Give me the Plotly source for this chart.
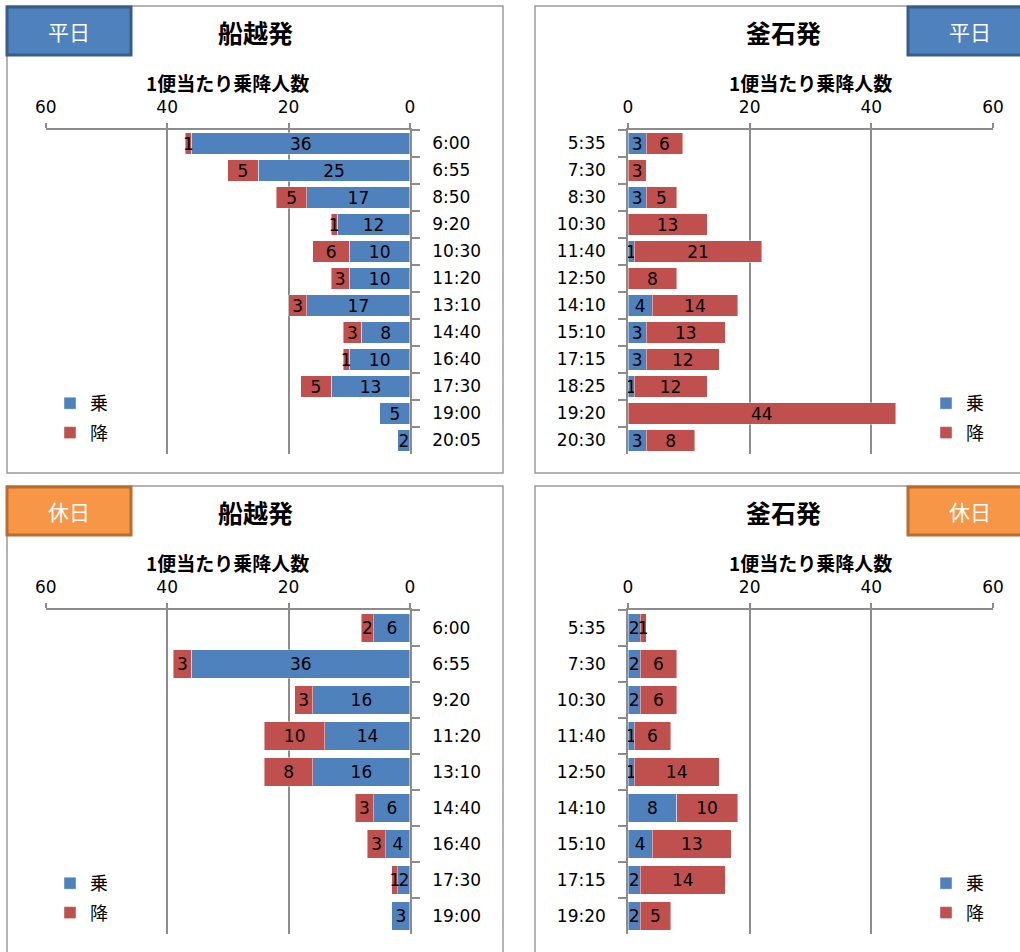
import plotly.graph_objects as go

W, H = 1020, 952

# 平日 船越発
wd_fk_times = ["6:00", "6:55", "8:50", "9:20", "10:30", "11:20", "13:10",
               "14:40", "16:40", "17:30", "19:00", "20:05"]
wd_fk_board = [36, 25, 17, 12, 10, 10, 17, 8, 10, 13, 5, 2]
wd_fk_alight = [1, 5, 5, 1, 6, 3, 3, 3, 1, 5, 0, 0]

# 平日 釜石発
wd_km_times = ["5:35", "7:30", "8:30", "10:30", "11:40", "12:50", "14:10",
               "15:10", "17:15", "18:25", "19:20", "20:30"]
wd_km_board = [3, 0, 3, 0, 1, 0, 4, 3, 3, 1, 0, 3]
wd_km_alight = [6, 3, 5, 13, 21, 8, 14, 13, 12, 12, 44, 8]

# 休日 船越発
hd_fk_times = ["6:00", "6:55", "9:20", "11:20", "13:10", "14:40", "16:40",
               "17:30", "19:00"]
hd_fk_board = [6, 36, 16, 14, 16, 6, 4, 2, 3]
hd_fk_alight = [2, 3, 3, 10, 8, 3, 3, 1, 0]

# 休日 釜石発
hd_km_times = ["5:35", "7:30", "10:30", "11:40", "12:50", "14:10", "15:10",
               "17:15", "19:20"]
hd_km_board = [2, 2, 2, 1, 1, 8, 4, 2, 2]
hd_km_alight = [1, 6, 6, 6, 14, 10, 13, 14, 5]

x_ticks = [0, 20, 40, 60]
series_names = ["乗", "降"]
axis_title = "1便当たり乗降人数"

BLUE = "#4F81BD"
RED = "#C0504D"
GRID = "#8C8C8C"
FRAME = "#9A9A9A"
NUM_FONT = "DejaVu Sans, Verdana, sans-serif"
JP_FONT = "Noto Sans CJK JP, sans-serif"


def px_x(v):
    return v / W


def px_y(v):
    return 1 - v / H


panels = [
    dict(title="船越発", badge="平日", times=wd_fk_times, board=wd_fk_board,
         alight=wd_fk_alight, mirror=True, top=0),
    dict(title="釜石発", badge="平日", times=wd_km_times, board=wd_km_board,
         alight=wd_km_alight, mirror=False, top=0),
    dict(title="船越発", badge="休日", times=hd_fk_times, board=hd_fk_board,
         alight=hd_fk_alight, mirror=True, top=480),
    dict(title="釜石発", badge="休日", times=hd_km_times, board=hd_km_board,
         alight=hd_km_alight, mirror=False, top=480),
]

badge_style = {
    "平日": dict(fill="#4F81BD", line="#385D8A"),
    "休日": dict(fill="#F79646", line="#B96D2E"),
}

fig = go.Figure()
layout = dict(
    width=W, height=H,
    margin=dict(l=0, r=0, t=0, b=0, autoexpand=False),
    paper_bgcolor="white", plot_bgcolor="white",
    barmode="stack", bargap=0.22,
    uniformtext=dict(mode="show", minsize=17),
    showlegend=True,
)
shapes = []
annotations = []

for i, p in enumerate(panels):
    n = "" if i == 0 else str(i + 1)
    xa, ya = "x" + n, "y" + n
    leg = "legend" + n
    top = p["top"]
    if p["mirror"]:
        x0, x1 = 45.7, 410
        frame = (7, 503)
        badge = (7, 131)
        legend_x = 50
        xrange = [60, 0]
        yside = "right"
    else:
        x0, x1 = 628, 993
        frame = (535, 1040)
        badge = (908, 1032)
        legend_x = 926
        xrange = [0, 60]
        yside = "left"
    y0, y1 = top + 130, top + 454

    for vals, name, color, grp in ((p["board"], series_names[0], BLUE, "a"),
                                   (p["alight"], series_names[1], RED, "b")):
        fig.add_trace(go.Bar(
            y=p["times"], x=vals, orientation="h", name=name,
            marker=dict(color=color, line=dict(color="rgba(255,255,255,0.55)", width=0.8)),
            text=[str(v) if v else "" for v in vals],
            textposition="inside", insidetextanchor="middle", textangle=0,
            textfont=dict(color="black", size=17, family=NUM_FONT),
            xaxis=xa, yaxis=ya, legend=leg, legendgroup=f"{grp}{i}",
            hovertemplate="%{y}: %{x}<extra>" + name + "</extra>",
        ))

    layout["xaxis" + n] = dict(
        domain=[px_x(x0), px_x(x1)], anchor=ya, side="top", range=xrange,
        tickvals=x_ticks, showgrid=True, gridcolor=GRID, gridwidth=1.5,
        showline=True, linecolor=GRID, linewidth=1.5, zeroline=False,
        ticks="outside", ticklen=5, tickcolor=GRID, tickwidth=1.5,
        ticklabelstandoff=3,
        tickfont=dict(size=17, family=NUM_FONT, color="black"),
        fixedrange=True,
    )
    layout["yaxis" + n] = dict(
        domain=[px_y(y1), px_y(y0)], anchor=xa, side=yside,
        type="category", categoryorder="array", categoryarray=p["times"],
        autorange="reversed", showgrid=False, zeroline=False,
        showline=True, linecolor=GRID, linewidth=1.5,
        ticks="outside", ticklen=8, tickcolor=GRID, tickwidth=1.5,
        tickson="boundaries", ticklabelstandoff=17,
        tickfont=dict(size=17, family=NUM_FONT, color="black"),
        fixedrange=True,
    )
    layout[leg] = dict(
        x=px_x(legend_x), xanchor="left", y=px_y(top + 385), yanchor="top",
        bgcolor="rgba(0,0,0,0)", traceorder="grouped", tracegroupgap=3,
        font=dict(size=18, family=JP_FONT, color="black"),
        itemclick=False, itemdoubleclick=False,
    )

    # panel frame
    shapes.append(dict(type="rect", xref="paper", yref="paper",
                       x0=px_x(frame[0]), x1=px_x(frame[1]),
                       y0=px_y(top + 473 if top == 0 else 970), y1=px_y(top + 6),
                       line=dict(color=FRAME, width=1.5), fillcolor="rgba(0,0,0,0)",
                       layer="below"))
    # badge
    bs = badge_style[p["badge"]]
    shapes.append(dict(type="rect", xref="paper", yref="paper",
                       x0=px_x(badge[0]), x1=px_x(badge[1]),
                       y0=px_y(top + 55), y1=px_y(top + 7),
                       line=dict(color=bs["line"], width=3), fillcolor=bs["fill"],
                       layer="above"))
    annotations.append(dict(text=p["badge"], xref="paper", yref="paper",
                            x=px_x((badge[0] + badge[1]) / 2), y=px_y(top + 31),
                            showarrow=False, xanchor="center", yanchor="middle",
                            font=dict(size=21, family=JP_FONT, color="white")))
    # panel title
    tx = 255 if p["mirror"] else 783
    annotations.append(dict(text="<b>" + p["title"] + "</b>", xref="paper", yref="paper",
                            x=px_x(tx), y=px_y(top + 32), showarrow=False,
                            xanchor="center", yanchor="middle",
                            font=dict(size=25, family=JP_FONT, color="black")))
    # axis title
    annotations.append(dict(text="<b>" + axis_title + "</b>", xref="paper", yref="paper",
                            x=px_x((x0 + x1) / 2), y=px_y(top + 82), showarrow=False,
                            xanchor="center", yanchor="middle",
                            font=dict(size=19, family=JP_FONT, color="black")))

layout["shapes"] = shapes
layout["annotations"] = annotations
fig.update_layout(**layout)

fig.write_html("out.html")
